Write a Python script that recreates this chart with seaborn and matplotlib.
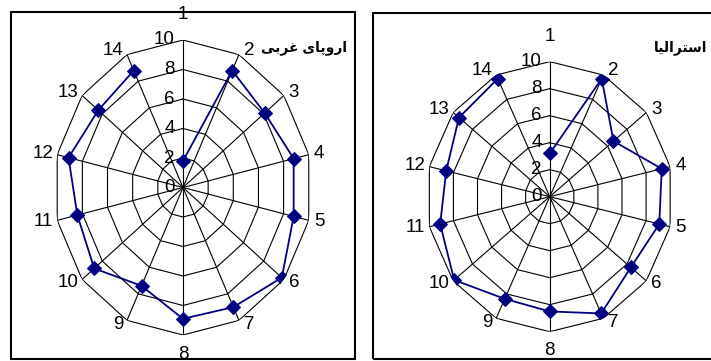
import numpy as np
import pandas as pd
import matplotlib
matplotlib.use('Agg')
import matplotlib.pyplot as plt
from matplotlib.patches import Rectangle
import seaborn as sns

plt.rcParams['font.family'] = ['Liberation Sans', 'DejaVu Sans']

# data
categories = [str(i) for i in range(1, 15)]
west_europe = [1.8, 8.8, 8.1, 8.8, 8.8, 9.8, 9.0, 8.9, 7.4, 8.8, 8.4, 9.1, 8.4, 8.8]
australia = [3.2, 9.7, 6.6, 9.3, 9.1, 8.4, 9.6, 8.5, 8.4, 9.9, 9.1, 8.6, 9.4, 9.7]
radial_ticks = [0, 2, 4, 6, 8, 10]
titles = ['اروپای غربی', 'استراليا']

# arabic presentation forms: isolated, final, initial, medial
forms = {
    'ا': ('\uFE8D', '\uFE8E', None, None),
    'ر': ('\uFEAD', '\uFEAE', None, None),
    'و': ('\uFEED', '\uFEEE', None, None),
    'پ': ('\uFB56', '\uFB57', '\uFB58', '\uFB59'),
    'ی': ('\uFBFC', '\uFBFD', '\uFBFE', '\uFBFF'),
    'غ': ('\uFECD', '\uFECE', '\uFECF', '\uFED0'),
    'ب': ('\uFE8F', '\uFE90', '\uFE91', '\uFE92'),
    'س': ('\uFEB1', '\uFEB2', '\uFEB3', '\uFEB4'),
    'ت': ('\uFE95', '\uFE96', '\uFE97', '\uFE98'),
    'ل': ('\uFEDD', '\uFEDE', '\uFEDF', '\uFEE0'),
    'ي': ('\uFEF1', '\uFEF2', '\uFEF3', '\uFEF4'),
}


def shape(text):
    out = []
    for i, c in enumerate(text):
        if c not in forms:
            out.append(c)
            continue
        prev = text[i - 1] if i > 0 else ''
        nxt = text[i + 1] if i + 1 < len(text) else ''
        join_prev = prev in forms and forms[prev][2] is not None
        join_next = forms[c][2] is not None and nxt in forms
        if join_prev and join_next:
            out.append(forms[c][3])
        elif join_prev:
            out.append(forms[c][1])
        elif join_next:
            out.append(forms[c][2])
        else:
            out.append(forms[c][0])
    return ''.join(out[::-1])


n = len(categories)
theta = np.arange(n) * 2 * np.pi / n
theta_closed = np.append(theta, theta[0])

fig = plt.figure(figsize=(7.11, 3.61), dpi=100)

panels = [
    (west_europe, [0.0759, 0.072, 0.3629, 0.8172], (0.488, 0.867), 0),
    (australia, [0.5995, 0.0812, 0.3474, 0.748], (0.9944, 0.867), 1),
]

for values, rect, title_pos, idx in panels:
    ax = fig.add_axes(rect, projection='polar')
    ax.set_theta_zero_location('N')
    ax.set_theta_direction(-1)
    ax.set_aspect('auto')
    ax.set_ylim(0, 10)
    ax.grid(False)
    ax.set_xticks([])
    ax.set_yticks([])
    ax.spines['polar'].set_visible(False)
    ax.patch.set_alpha(0)

    # polygon grid and spokes
    for r in radial_ticks[1:]:
        ax.plot(theta_closed, [r] * (n + 1), color='black', lw=0.8)
    for t in theta:
        ax.plot([t, t], [0, 10], color='black', lw=0.8)

    df = pd.DataFrame({'theta': theta_closed, 'value': np.append(values, values[0])})
    sns.lineplot(data=df, x='theta', y='value', sort=False, ax=ax,
                 color='#000080', lw=1.3, marker='D', markersize=7,
                 markeredgecolor='#000080', zorder=5)
    ax.set_xlabel('')
    ax.set_ylabel('')

    # category labels
    for k, (t, lab) in enumerate(zip(theta, categories)):
        s, c = np.sin(t), np.cos(t)
        if k == 0:
            off, ha = (0, 25), 'center'
        elif k == n // 2:
            off, ha = (0, -19), 'center'
        elif s > 0:
            off, ha = (5, 5 * c), 'left'
        else:
            off, ha = (-4, 5 * c), 'right'
        ax.annotate(lab, (t, 10), xytext=off, textcoords='offset pixels',
                    ha=ha, va='center', fontsize=13.5, annotation_clip=False)

    # radial tick labels along the top spoke
    for r in radial_ticks:
        ax.annotate(str(r), (0, r), xytext=(-8, 0), textcoords='offset pixels',
                    ha='right', va='center', fontsize=13.5, annotation_clip=False)

    fig.text(title_pos[0], title_pos[1], shape(titles[idx]), ha='right',
             va='center', fontsize=10, fontweight='bold')

fig.add_artist(Rectangle((11 / 711, 2 / 361), 344 / 711, 347 / 361,
                         transform=fig.transFigure, fill=False, lw=1.5, color='black'))
fig.add_artist(Rectangle((373 / 711, 2 / 361), 345 / 711, 346 / 361,
                         transform=fig.transFigure, fill=False, lw=1.5, color='black'))

fig.savefig('out.png', dpi=100)
